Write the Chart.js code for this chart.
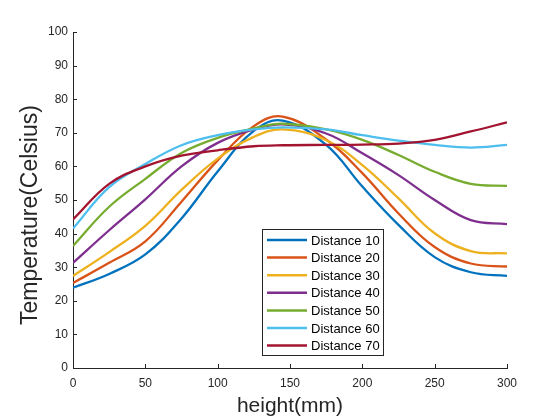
<!DOCTYPE html>
<html>
<head>
<meta charset="utf-8">
<script src="https://cdn.jsdelivr.net/npm/chart.js@4/dist/chart.umd.min.js"></script>
<style>
  html, body { margin: 0; padding: 0; background: #fff; }
  #wrap { width: 560px; height: 420px; }
</style>
</head>
<body>
<div id="wrap"><canvas id="c" width="560" height="420"></canvas></div>
<script>
// heights (mm) where the curves were read
const heights = [0, 25, 50, 75, 100, 125, 145, 175, 200, 225, 250, 275, 300];

const dist10 = [23.9, 28.0, 33.8, 44.5, 58.5, 70.6, 73.6, 66.4, 54.0, 42.6, 33.0, 28.5, 27.4];
const dist20 = [25.3, 31.3, 37.7, 49.5, 61.8, 72.0, 74.8, 68.0, 58.0, 46.0, 36.0, 31.1, 30.2];
const dist30 = [27.4, 34.5, 42.3, 53.0, 62.3, 68.8, 71.0, 67.8, 60.4, 50.5, 40.1, 34.8, 34.1];
const dist40 = [31.3, 41.0, 50.2, 60.0, 67.0, 71.0, 72.5, 69.8, 63.9, 57.4, 50.0, 44.0, 42.8];
const dist50 = [36.3, 48.0, 56.3, 64.0, 68.5, 71.3, 72.7, 71.0, 67.9, 63.4, 58.4, 54.8, 54.2];
const dist60 = [41.5, 53.8, 60.7, 66.3, 69.3, 71.0, 71.6, 71.0, 69.3, 67.7, 66.4, 65.6, 66.4];
const dist70 = [44.2, 54.8, 60.0, 63.2, 64.8, 66.0, 66.3, 66.4, 66.5, 66.8, 67.9, 70.4, 73.1];

const seriesNames = ['Distance 10', 'Distance 20', 'Distance 30', 'Distance 40', 'Distance 50', 'Distance 60', 'Distance 70'];
const seriesData = [dist10, dist20, dist30, dist40, dist50, dist60, dist70];
const colors = ['#0072BD', '#D95319', '#EDB120', '#7E2F8E', '#77AC30', '#4DBEEE', '#A2142F'];

const xTicks = [0, 50, 100, 150, 200, 250, 300];
const yTicks = [0, 10, 20, 30, 40, 50, 60, 70, 80, 90, 100];

const axisColor = '#262626';
const FONT = '"Liberation Sans", Arial, sans-serif';

// matlab style inner tick marks, legend box and y label
const extras = {
  id: 'extras',
  afterDatasetsDraw(chart) {
    const ctx = chart.ctx;
    const xs = chart.scales.x, ys = chart.scales.y;
    const area = chart.chartArea;
    ctx.save();
    ctx.strokeStyle = axisColor;
    ctx.lineWidth = 1;
    ctx.beginPath();
    xTicks.forEach(v => {
      const px = Math.round(xs.getPixelForValue(v)) + 0.5;
      ctx.moveTo(px, area.bottom);
      ctx.lineTo(px, area.bottom - 4);
    });
    yTicks.forEach(v => {
      const py = Math.round(ys.getPixelForValue(v)) + 0.5;
      ctx.moveTo(area.left, py);
      ctx.lineTo(area.left + 4, py);
    });
    ctx.stroke();

    // legend
    const lx = 262, ly = 229, lw = 121, lh = 126;
    ctx.fillStyle = '#fff';
    ctx.fillRect(lx, ly, lw, lh);
    ctx.strokeStyle = axisColor;
    ctx.strokeRect(lx + 0.5, ly + 0.5, lw, lh);
    ctx.font = '13px ' + FONT;
    ctx.textBaseline = 'middle';
    ctx.textAlign = 'left';
    seriesNames.forEach((name, i) => {
      const y = ly + 11 + i * 17.6;
      ctx.strokeStyle = colors[i];
      ctx.lineWidth = 2.5;
      ctx.beginPath();
      ctx.moveTo(lx + 5, y);
      ctx.lineTo(lx + 45, y);
      ctx.stroke();
      ctx.fillStyle = '#000';
      ctx.fillText(name, lx + 49, y + 1);
    });

    // y axis title
    ctx.translate(31, 215);
    ctx.rotate(-Math.PI / 2);
    ctx.font = '23px ' + FONT;
    ctx.fillStyle = axisColor;
    ctx.textAlign = 'center';
    ctx.textBaseline = 'middle';
    ctx.fillText('Temperature(Celsius)', 0, 0);
    ctx.restore();
  }
};

const datasets = seriesData.map((vals, i) => ({
  label: seriesNames[i],
  data: vals.map((v, j) => ({ x: heights[j], y: v })),
  borderColor: colors[i],
  backgroundColor: colors[i],
  borderWidth: 2.3,
  pointRadius: 0,
  fill: false,
  tension: 0.4,
  order: -i
}));

new Chart(document.getElementById('c'), {
  type: 'line',
  data: { datasets: datasets },
  options: {
    responsive: false,
    animation: false,
    layout: { padding: { left: 0, right: 53, top: 32, bottom: 0 } },
    plugins: { legend: { display: false }, tooltip: { enabled: false } },
    scales: {
      x: {
        type: 'linear',
        min: 0, max: 300,
        afterBuildTicks: s => { s.ticks = xTicks.map(v => ({ value: v })); },
        afterFit: s => { s.height = 52; },
        grid: { display: false, drawTicks: false },
        border: { display: true, color: axisColor, width: 1 },
        ticks: { color: axisColor, font: { family: FONT, size: 12 }, padding: 8, maxRotation: 0 },
        title: { display: true, text: 'height(mm)', color: axisColor, font: { family: FONT, size: 21 }, padding: { top: 0, bottom: 1 } }
      },
      y: {
        type: 'linear',
        min: 0, max: 100,
        afterBuildTicks: s => { s.ticks = yTicks.map(v => ({ value: v })); },
        afterFit: s => { s.width = 73; },
        grid: { display: false, drawTicks: false },
        border: { display: true, color: axisColor, width: 1 },
        ticks: { color: axisColor, font: { family: FONT, size: 12 }, padding: 5 }
      }
    }
  },
  plugins: [extras]
});
</script>
</body>
</html>
